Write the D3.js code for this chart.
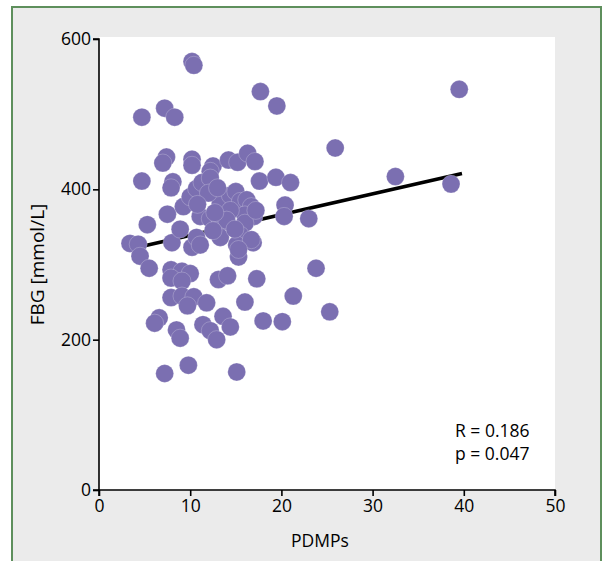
<!DOCTYPE html>
<html><head><meta charset="utf-8">
<script src="https://cdn.jsdelivr.net/npm/d3@7"></script>
<style>html,body{margin:0;padding:0;background:#fff;}svg{display:block;}</style>
</head><body>
<script>
const xVals = [10.2,10.4,7.2,8.3,4.7,17.7,19.5,39.5,25.9,32.5,38.6,4.7,7.4,7.0,8.1,7.9,10.2,10.2,12.5,12.2,
14.2,15.2,16.3,17.1,17.6,19.4,21.0,20.4,20.3,23.0,23.8,21.3,25.3,18.0,20.1,17.3,16.0,15.1,7.2,9.8,
3.4,4.3,4.5,5.5,5.3,7.5,8.0,8.9,10.2,10.7,9.25,10.0,10.7,11.3,12.2,11.1,12.2,13.3,14.4,15.0,
15.5,16.2,16.7,17.0,16.0,14.4,13.3,14.0,16.0,13.3,15.5,16.9,15.1,15.3,11.1,7.9,9.1,10.0,7.9,9.1,
7.9,9.1,10.4,9.7,11.8,6.6,6.1,8.5,8.9,11.4,12.2,12.9,13.6,14.4,13.1,14.1,16.7,12.7,14.9,12.5,
15.3,17.2,12.0,10.8,13.0];
const yVals = [570,565,508,496,496,530,511,533,455,417,407,411,443,435,410,402,440,432,431,424,
439,436,448,437,411,416,409,379,364,361,295,258,237,225,224,281,250,157,155,166,
328,327,311,295,353,367,329,347,323,336,377,390,401,409,415,364,361,381,392,397,
384,386,377,364,366,372,355,359,355,336,339,329,326,310,326,293,291,288,282,278,
256,258,257,245,249,229,222,213,202,220,212,200,231,217,280,285,333,369,347,345,
320,372,395,380,402];
const xTicks = [0,10,20,30,40,50];
const yTicks = [0,200,400,600];
const fitX = [3.2, 39.8];
const fitY = [320, 421];
const statLines = ["R = 0.186", "p = 0.047"];
const xTitle = "PDMPs";
const yTitle = "FBG [mmol/L]";

const W = 604, H = 561;
const font = "'Open Sans', 'Noto Sans', sans-serif";
const fs = "17.5px";
const svg = d3.select("body").append("svg").attr("width", W).attr("height", H);

svg.append("rect").attr("x",0).attr("y",0).attr("width",W).attr("height",H).attr("fill","#fff");
svg.append("rect").attr("x",12).attr("y",7).attr("width",589).attr("height",H)
  .attr("fill","#ebebeb").attr("stroke","#5e8f5c").attr("stroke-width",2);

const x = d3.scaleLinear().domain([0,50]).range([99,555]);
const y = d3.scaleLinear().domain([0,600]).range([490,39]);

svg.append("rect").attr("x",x(0)).attr("y",37).attr("width",x(50)-x(0)).attr("height",y(0)-37).attr("fill","#fff");

// regression line
svg.append("line").attr("x1",x(fitX[0])).attr("y1",y(fitY[0])).attr("x2",x(fitX[1])).attr("y2",y(fitY[1]))
  .attr("stroke","#000").attr("stroke-width",3.5);

// points
const pts = xVals.map((v,i)=>({x:v,y:yVals[i]}));
svg.append("g").selectAll("circle").data(pts).join("circle")
  .attr("cx",d=>x(d.x)).attr("cy",d=>y(d.y)).attr("r",9)
  .attr("fill","#7b6fb1").attr("stroke","#ffffff").attr("stroke-width",0.5).attr("stroke-opacity",0.45);

// axes
const xAxis = svg.append("g").attr("transform",`translate(0,${y(0)})`)
  .call(d3.axisBottom(x).tickValues(xTicks).tickSize(6).tickPadding(4).tickFormat(d3.format("d")));
const yAxis = svg.append("g").attr("transform",`translate(${x(0)},0)`)
  .call(d3.axisLeft(y).tickValues(yTicks).tickSize(6).tickPadding(2).tickFormat(d3.format("d")));
[xAxis,yAxis].forEach(a=>{
  a.select(".domain").attr("stroke","#000").attr("stroke-width",1.6);
  a.selectAll(".tick line").attr("stroke","#000").attr("stroke-width",1.6);
  a.selectAll(".tick text").attr("fill","#000").style("font-family",font).style("font-size",fs);
});
xAxis.select(".domain").attr("d", `M${x(0)},6V0H${x(50)}V6`);
yAxis.select(".domain").attr("d", `M-6,${y(600)}H0V${y(0)}H-6`);

svg.append("text").attr("x",320).attr("y",547).attr("text-anchor","middle")
  .style("font-family",font).style("font-size",fs).attr("fill","#000").text(xTitle);
svg.append("text").attr("transform",`translate(44,${(y(0)+y(600))/2}) rotate(-90)`).attr("text-anchor","middle")
  .style("font-family",font).style("font-size","19px").attr("fill","#000").text(yTitle);

svg.append("g").selectAll("text").data(statLines).join("text")
  .attr("x",455).attr("y",(d,i)=>437+i*23)
  .style("font-family",font).style("font-size",fs).attr("fill","#000").text(d=>d);
</script>
</body></html>
